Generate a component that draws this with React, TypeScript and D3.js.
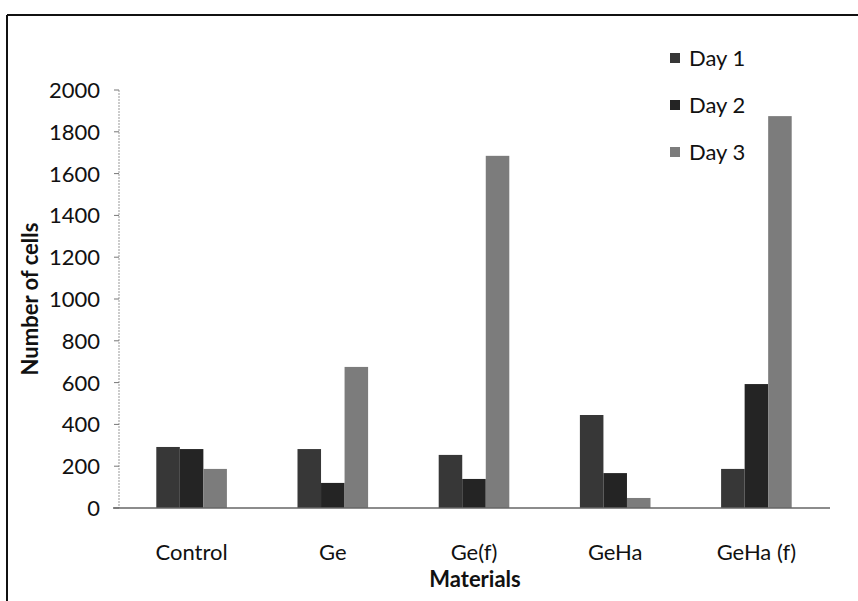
import React from "react";
import * as d3 from "d3";

// values
const categories = ["Control", "Ge", "Ge(f)", "GeHa", "GeHa (f)"];
const day1 = [292, 282, 254, 445, 187];
const day2 = [282, 120, 139, 167, 593];
const day3 = [187, 675, 1685, 48, 1875];
const seriesNames = ["Day 1", "Day 2", "Day 3"];
const yTicks = [0, 200, 400, 600, 800, 1000, 1200, 1400, 1600, 1800, 2000];

const colors = ["#373737", "#242424", "#7c7c7c"];
const font = "Lato, 'Open Sans', sans-serif";

const App = () => {
  const width = 858;
  const height = 601;

  const x = d3
    .scaleBand()
    .domain(categories)
    .range([121, 827])
    .paddingInner(0.5)
    .paddingOuter(0.25);

  const xs = d3
    .scaleBand()
    .domain(seriesNames)
    .range([0, x.bandwidth()])
    .padding(0);

  const y = d3.scaleLinear().domain([0, 2000]).range([508, 90]);

  const series = [day1, day2, day3];
  const axisX = 119;

  return (
    <svg
      width={width}
      height={height}
      style={{ position: "absolute", left: 0, top: 0, background: "#fff" }}
    >
      {/* frame */}
      <line x1={7} y1={15} x2={858} y2={15} stroke="#111" strokeWidth={2} />
      <line x1={7} y1={15} x2={7} y2={601} stroke="#111" strokeWidth={2} />

      {/* y axis */}
      <line
        x1={axisX}
        y1={y(2000)}
        x2={axisX}
        y2={y(0)}
        stroke="#999"
        strokeWidth={1}
        strokeDasharray="2,1"
      />
      {yTicks.map((t) => (
        <g key={t}>
          <line x1={axisX - 5} x2={axisX} y1={y(t)} y2={y(t)} stroke="#777" />
          <text
            x={100}
            y={y(t)}
            dy="0.36em"
            textAnchor="end"
            fontFamily={font}
            fontSize={22}
            fill="#111"
          >
            {t}
          </text>
        </g>
      ))}

      {/* bars */}
      {categories.map((c, i) => (
        <g key={c} transform={`translate(${x(c)},0)`}>
          {series.map((s, j) => (
            <rect
              key={j}
              x={xs(seriesNames[j])}
              y={y(s[i])}
              width={xs.bandwidth()}
              height={y(0) - y(s[i])}
              fill={colors[j]}
            />
          ))}
        </g>
      ))}

      {/* x axis */}
      <line x1={113} x2={830} y1={y(0)} y2={y(0)} stroke="#666" strokeWidth={1.5} />
      {categories.map((c) => (
        <text
          key={c}
          x={x(c) + x.bandwidth() / 2}
          y={552}
          dy="0.36em"
          textAnchor="middle"
          fontFamily={font}
          fontSize={22}
          fill="#111"
        >
          {c}
        </text>
      ))}

      {/* axis titles */}
      <text
        x={475}
        y={579}
        dy="0.36em"
        textAnchor="middle"
        fontFamily={font}
        fontWeight="bold"
        fontSize={22}
        fill="#111"
      >
        Materials
      </text>
      <text
        transform={`translate(30,${y(1000)}) rotate(-90)`}
        dy="0.36em"
        textAnchor="middle"
        fontFamily={font}
        fontWeight="bold"
        fontSize={22}
        fill="#111"
      >
        Number of cells
      </text>

      {/* legend */}
      {seriesNames.map((n, j) => (
        <g key={n} transform={`translate(670,${58 + j * 47})`}>
          <rect x={0} y={-5} width={10} height={10} fill={colors[j]} />
          <text
            x={19}
            y={0}
            dy="0.36em"
            fontFamily={font}
            fontSize={22}
            fill="#111"
          >
            {n}
          </text>
        </g>
      ))}
    </svg>
  );
};

export default App;
